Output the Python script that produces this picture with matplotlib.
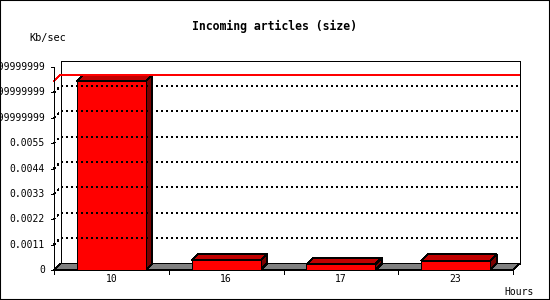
import numpy as np
import matplotlib
matplotlib.use("Agg")
import matplotlib.pyplot as plt
from matplotlib.patches import Polygon, Rectangle
from matplotlib.lines import Line2D
from matplotlib.transforms import offset_copy

# data
hours = ["10", "16", "17", "23"]
kbsec = [0.00819, 0.00042, 0.000247, 0.000403]
yticks = [0, 0.0011, 0.0022, 0.0033, 0.0044, 0.0055, 0.0066, 0.0077, 0.0088]
ylabels = ["0", "0.0011", "0.0022", "0.0033", "0.0044", "0.0055",
           "0.0065999999999999", "0.0076999999999999", "0.0087999999999999"]

fig = plt.figure(figsize=(5.5, 3), dpi=100)
fig.patch.set_facecolor("white")
fig.add_artist(Rectangle((0, 0), 1, 1, transform=fig.transFigure,
                         fill=False, edgecolor="black", lw=1.5))

ax = fig.add_axes([54/550, 30/300, 459/550, 203/300])
ax.set_xlim(0, len(hours))
ax.set_ylim(0, yticks[-1])
ax.axis("off")

# depth of the 3d effect, pixels -> data units
D = 6.5
p0 = ax.transData.transform((0, 0))
p1 = ax.transData.transform((1, 0.001))
ddx = D / (p1[0] - p0[0])
ddy = D * 0.001 / (p1[1] - p0[1])

n = len(hours)
ymax = yticks[-1]
kw = dict(clip_on=False, antialiased=False)

# back wall
ax.add_patch(Polygon([(ddx, ddy), (n+ddx, ddy), (n+ddx, ymax+ddy), (ddx, ymax+ddy)],
                     closed=True, facecolor="white", edgecolor="black", lw=0.72, **kw))

# grid lines
for t in yticks[1:-1]:
    ax.plot([0, ddx, n+ddx], [t, t+ddy, t+ddy], color="black", lw=0.72,
            dashes=(2, 3), **kw)

# line at the max value
vmax = max(kbsec)
ax.plot([0, ddx, n+ddx], [vmax, vmax+ddy, vmax+ddy], color="red", lw=0.72, **kw)

# floor
ax.add_patch(Polygon([(0, 0), (n, 0), (n+ddx, ddy), (ddx, ddy)], closed=True,
                     facecolor="#808080", edgecolor="black", lw=0.72, **kw))

# bars
w = 0.6
for i, v in enumerate(kbsec):
    l = i + 0.5 - w/2
    r = i + 0.5 + w/2
    ax.add_patch(Polygon([(r, 0), (r+ddx, ddy), (r+ddx, v+ddy), (r, v)], closed=True,
                         facecolor="#7a0000", edgecolor="black", lw=0.72, **kw))
    ax.add_patch(Polygon([(l, v), (r, v), (r+ddx, v+ddy), (l+ddx, v+ddy)], closed=True,
                         facecolor="#c00000", edgecolor="black", lw=0.72, **kw))
    ax.add_patch(Polygon([(l, 0), (r, 0), (r, v), (l, v)], closed=True,
                         facecolor="#ff0000", edgecolor="black", lw=0.72, **kw))

# front axis lines
ax.plot([0, 0], [0, ymax], color="black", lw=0.72, **kw)
ax.plot([0, n], [0, 0], color="black", lw=0.72, **kw)

# tick marks
for t in yticks:
    x_, y_ = ax.transData.transform((0, t))
    fig.add_artist(Line2D([x_-3, x_], [y_, y_], transform=None, color="black",
                          lw=0.72, antialiased=False))
for i in range(n + 1):
    x_, y_ = ax.transData.transform((i, 0))
    fig.add_artist(Line2D([x_, x_], [y_, y_-4], transform=None, color="black",
                          lw=0.72, antialiased=False))

# tick labels
font = "DejaVu Sans Mono"
ylab_tr = offset_copy(ax.transData, fig=fig, x=-9, y=0, units="dots")
for t, s in zip(yticks, ylabels):
    ax.text(0, t, s, transform=ylab_tr, ha="right", va="center",
            family=font, fontsize=7)
xlab_tr = offset_copy(ax.transData, fig=fig, x=0, y=-9, units="dots")
for i, h in enumerate(hours):
    ax.text(i + 0.5, 0, h, transform=xlab_tr, ha="center", va="center",
            family=font, fontsize=7)

fig.text(275/550, 1 - 26/300, "Incoming articles (size)", ha="center", va="center",
         family=font, fontsize=8.3, weight="bold")
fig.text(47.5/550, 1 - 38/300, "Kb/sec", ha="center", va="center",
         family=font, fontsize=7.4)
fig.text(519.5/550, 1 - 292/300, "Hours", ha="center", va="center",
         family=font, fontsize=7)

fig.savefig("out.png", dpi=100)
